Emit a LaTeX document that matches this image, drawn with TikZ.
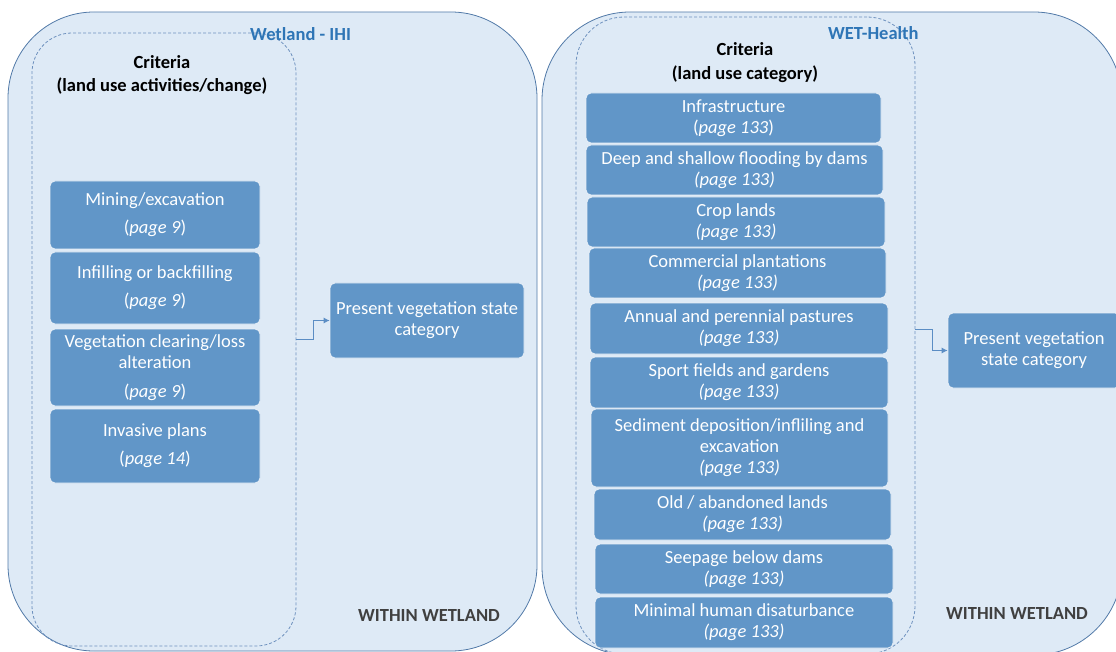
\documentclass[tikz,border=0pt]{standalone}
\usepackage{fontspec}
\setmainfont{Carlito}
\usetikzlibrary{arrows.meta}
\definecolor{outerfill}{RGB}{222,234,246}
\definecolor{outerdraw}{RGB}{82,122,168}
\definecolor{dashcol}{RGB}{110,145,190}
\definecolor{boxfill}{RGB}{97,150,200}
\definecolor{titleblue}{RGB}{46,117,182}
\definecolor{darktext}{RGB}{64,64,64}
\definecolor{conncol}{RGB}{91,141,196}
\tikzset{
  container/.style={draw=outerdraw, fill=outerfill, line width=0.8pt, inner sep=0pt},
  dashbox/.style={draw=dashcol, dash pattern=on 3pt off 2pt, line width=0.8pt, inner sep=0pt},
  catbox/.style={draw=white!85!boxfill, line width=0.8pt, fill=boxfill, rounded corners=5pt,
     text=white, align=center, inner sep=0pt, font=\fontsize{18.5}{21}\selectfont},
  head/.style={align=center, inner sep=0pt, font=\fontsize{18.5}{21}\selectfont\bfseries},
  tag/.style={inner sep=0pt, anchor=west, text=titleblue, font=\fontsize{18.5}{21}\selectfont\bfseries},
  zone/.style={inner sep=0pt, anchor=west, text=darktext, font=\fontsize{18.5}{21}\selectfont\bfseries},
  conn/.style={draw=conncol, line width=0.8pt, -{Latex[length=6pt,width=6pt]}}
}
\begin{document}
\begin{tikzpicture}[x=1pt,y=-1pt]
\useasboundingbox (0,0) rectangle (1116,652);
\begin{scope}
\clip (0,0) rectangle (1116,652);
% containers
\node (lout) [container, rounded corners=86pt, minimum width=529pt, minimum height=639pt] at (272.5,331.5) {};
\node (rout) [container, rounded corners=88pt, minimum width=580pt, minimum height=643pt] at (832,333.5) {};
\node (ldash) [dashbox, rounded corners=40pt, minimum width=264pt, minimum height=613pt] at (164,339.5) {};
\node (rdash) [dashbox, rounded corners=48pt, minimum width=339pt, minimum height=637pt] at (745.5,335.5) {};

% titles
\node (ltag) [tag] at (250,34) {Wetland - IHI};
\node (rtag) [tag] at (828,33) {WET-Health};
\node (lhead) [head] at (162,75.5) {Criteria\\[2pt](land use activities/change)};
\node (rhead) [head] at (745,63) {Criteria\\[3pt](land use category)};
\node (lzone) [zone] at (358,615) {WITHIN WETLAND};
\node (rzone) [zone] at (946,613) {WITHIN WETLAND};

% left boxes
\node (l1) [catbox, minimum width=210pt, minimum height=68pt] at (155,215) {Mining/excavation\\[7pt](\textit{page 9})};
\node (l2) [catbox, minimum width=210pt, minimum height=72pt] at (155,288) {Infilling or backfilling\\[7pt](\textit{page 9})};
\node (l3) [catbox, minimum width=210pt, minimum height=77pt] at (155,367.5) {Vegetation clearing/loss\\alteration\\[8pt](\textit{page 9})};
\node (l4) [catbox, minimum width=210pt, minimum height=74pt] at (155,446) {Invasive plans\\[7pt](\textit{page 14})};
\node (lpv) [catbox, minimum width=194pt, minimum height=75pt] at (427,320.5) {Present vegetation state\\category};

% right boxes
\node (r1) [catbox, minimum width=295pt, minimum height=50pt] at (733.5,118) {Infrastructure\\(\textit{page 133})};
\node (r2) [catbox, minimum width=297pt, minimum height=50pt] at (734.5,170) {Deep and shallow flooding by dams\\\textit{(page 133)}};
\node (r3) [catbox, minimum width=298pt, minimum height=50pt] at (736,222) {Crop lands\\\textit{(page 133)}};
\node (r4) [catbox, minimum width=297pt, minimum height=50pt] at (737.5,273) {Commercial plantations\\\textit{(page 133)}};
\node (r5) [catbox, minimum width=298pt, minimum height=51pt] at (739,328.5) {Annual and perennial pastures\\\textit{(page 133)}};
\node (r6) [catbox, minimum width=298pt, minimum height=51pt] at (739,382.5) {Sport fields and gardens\\\textit{(page 133)}};
\node (r7) [catbox, minimum width=297pt, minimum height=78pt] at (739.5,448) {Sediment deposition/infliling and\\excavation\\\textit{(page 133)}};
\node (r8) [catbox, minimum width=297pt, minimum height=51pt] at (742.5,514.5) {Old / abandoned lands\\\textit{(page 133)}};
\node (r9) [catbox, minimum width=298pt, minimum height=50pt] at (744,569) {Seepage below dams\\\textit{(page 133)}};
\node (r10) [catbox, minimum width=298pt, minimum height=51pt] at (744,622.5) {Minimal human disaturbance\\\textit{(page 133)}};
\node (rpv) [catbox, minimum width=172pt, minimum height=75pt] at (1034,350.5) {Present vegetation\\state category};

% connectors
\coordinate (rs) at (915,329);
\draw[conn] (ldash.east) -- ++(17,0) |- (lpv.west);
\draw[conn] (rs) -- ++(17,0) |- (rpv.west);
\end{scope}
\end{tikzpicture}
\end{document}
